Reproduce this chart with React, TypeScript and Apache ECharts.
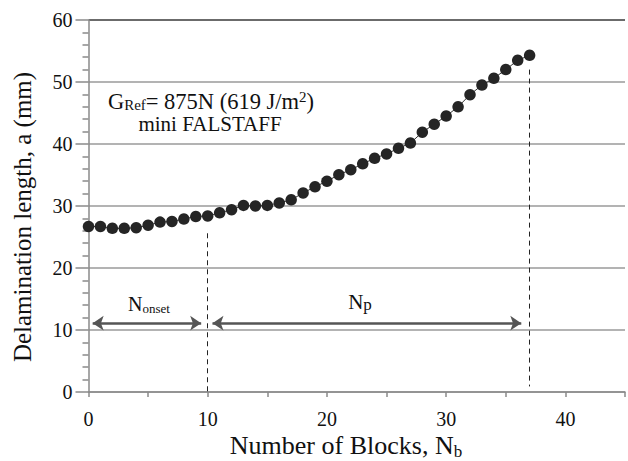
import React, { useEffect, useRef } from "react";
import * as echarts from "echarts";

const blocks = [0, 1, 2, 3, 4, 5, 6, 7, 8, 9, 10, 11, 12, 13, 14, 15, 16, 17, 18, 19, 20, 21, 22, 23, 24, 25, 26, 27, 28, 29, 30, 31, 32, 33, 34, 35, 36, 37];
const delamination = [26.7, 26.7, 26.4, 26.4, 26.5, 26.9, 27.4, 27.5, 27.9, 28.3, 28.4, 28.9, 29.4, 30.1, 30.0, 30.1, 30.5, 31.0, 32.1, 33.1, 34.0, 35.05, 35.85, 36.8, 37.7, 38.4, 39.3, 40.15, 41.9, 43.2, 44.5, 46.0, 47.95, 49.5, 50.6, 52.0, 53.5, 54.3];

const onsetArrow = [[0.35, 11.1], [9.45, 11.1]];
const propArrow = [[10.4, 11.1], [36.3, 11.1]];
const onsetDash = [[10, 25.6], [10, 0]];
const endDash = [[37, 52], [37, 0.9]];

const xLabels = [0, 10, 20, 30, 40];
const yTicks = [0, 10, 20, 30, 40, 50, 60];

const SERIF = "Liberation Serif";

export default function App() {
  const ref = useRef<HTMLDivElement>(null);
  useEffect(() => {
    if (!ref.current) return;
    const chart = echarts.init(ref.current, null, { renderer: "svg" });
    const pts = blocks.map((b, i) => [b, delamination[i]]);
    const gridColors = yTicks.map((t) => (t === 60 ? "#3a3a3a" : "#9a9a9a"));
    const arrowLine = { color: "#555", width: 2.5, type: "solid" };
    const dashLine = { color: "#222", width: 1, type: [5, 4] };
    chart.setOption({
      animation: false,
      grid: { left: 88.5, right: 0, top: 20, bottom: 69, containLabel: false },
      xAxis: {
        type: "value",
        min: 0,
        max: 45,
        interval: 5,
        axisLine: { show: true, lineStyle: { color: "#8a8a8a", width: 1.5 } },
        axisTick: { show: true, inside: false, length: 5, lineStyle: { color: "#8a8a8a", width: 1.5 } },
        axisLabel: {
          margin: 17,
          fontFamily: SERIF,
          fontSize: 20,
          color: "#111",
          formatter: (v: number) => (xLabels.indexOf(v) >= 0 ? String(v) : ""),
        },
        splitLine: { show: false },
      },
      yAxis: {
        type: "value",
        min: 0,
        max: 60,
        interval: 10,
        axisLine: { show: true, lineStyle: { color: "#8a8a8a", width: 1.5 } },
        axisTick: { show: true, inside: false, length: 13, lineStyle: { color: "#8a8a8a", width: 1.5 } },
        minorTick: { show: true, splitNumber: 5, length: 6, lineStyle: { color: "#8a8a8a", width: 1.5 } },
        axisLabel: { margin: 16, fontFamily: SERIF, fontSize: 20, color: "#111" },
        splitLine: { show: true, lineStyle: { color: gridColors, width: 1.5 } },
      },
      series: [
        {
          type: "line",
          data: pts,
          symbol: "circle",
          symbolSize: 11.5,
          itemStyle: { color: "#252525" },
          lineStyle: { color: "#333", width: 1 },
          silent: true,
          z: 5,
          markLine: {
            silent: true,
            animation: false,
            label: { show: false },
            emphasis: { disabled: true },
            data: [
              [
                { coord: onsetArrow[0], symbol: "arrow", symbolSize: 11, lineStyle: arrowLine },
                { coord: onsetArrow[1], symbol: "arrow", symbolSize: 11 },
              ],
              [
                { coord: propArrow[0], symbol: "arrow", symbolSize: 11, lineStyle: arrowLine },
                { coord: propArrow[1], symbol: "arrow", symbolSize: 11 },
              ],
              [
                { coord: onsetDash[0], symbol: "none", lineStyle: dashLine },
                { coord: onsetDash[1], symbol: "none" },
              ],
              [
                { coord: endDash[0], symbol: "none", lineStyle: dashLine },
                { coord: endDash[1], symbol: "none" },
              ],
            ],
          },
        },
      ],
      graphic: [
        {
          type: "text",
          x: 22,
          y: 217,
          rotation: Math.PI / 2,
          style: {
            text: "Delamination length, a (mm)",
            fontFamily: SERIF,
            fontSize: 25,
            fill: "#111",
            align: "center",
            verticalAlign: "middle",
          },
        },
        {
          type: "text",
          x: 346,
          y: 445,
          style: {
            text: "Number of Blocks, N{s|b}",
            fontFamily: SERIF,
            fontSize: 26,
            lineHeight: 26,
            fill: "#111",
            align: "center",
            verticalAlign: "middle",
            rich: { s: { fontFamily: SERIF, fontSize: 17, lineHeight: 17, fill: "#111", padding: [12, 0, 0, 0] } },
          },
        },
        {
          type: "text",
          x: 211,
          y: 101,
          style: {
            text: "G{s|Ref}= 875N (619 J/m{p|2})",
            fontFamily: SERIF,
            fontSize: 22.5,
            lineHeight: 20,
            fill: "#111",
            align: "center",
            verticalAlign: "middle",
            rich: {
              s: { fontFamily: SERIF, fontSize: 15, lineHeight: 14, fill: "#111", padding: [8, 0, 0, 0] },
              p: { fontFamily: SERIF, fontSize: 15, lineHeight: 14, fill: "#111", padding: [0, 0, 8, 0] },
            },
          },
        },
        {
          type: "text",
          x: 210,
          y: 124,
          style: { text: "mini FALSTAFF", fontFamily: SERIF, fontSize: 21, lineHeight: 18, fill: "#111", align: "center", verticalAlign: "middle" },
        },
        {
          type: "text",
          x: 149,
          y: 304,
          style: {
            text: "N{s|onset}",
            fontFamily: SERIF,
            fontSize: 20,
            fill: "#111",
            align: "center",
            verticalAlign: "middle",
            rich: { s: { fontFamily: SERIF, fontSize: 13, fill: "#111", padding: [8, 0, 0, 0] } },
          },
        },
        {
          type: "text",
          x: 360,
          y: 302,
          style: {
            text: "N{s|p}",
            fontFamily: SERIF,
            fontSize: 21,
            fill: "#111",
            align: "center",
            verticalAlign: "middle",
            rich: { s: { fontFamily: SERIF, fontSize: 17, fill: "#111", padding: [5, 0, 0, 0] } },
          },
        },
      ],
    });
    return () => chart.dispose();
  }, []);
  return <div ref={ref} style={{ position: "absolute", left: 0, top: 0, width: 628, height: 461 }} />;
}
